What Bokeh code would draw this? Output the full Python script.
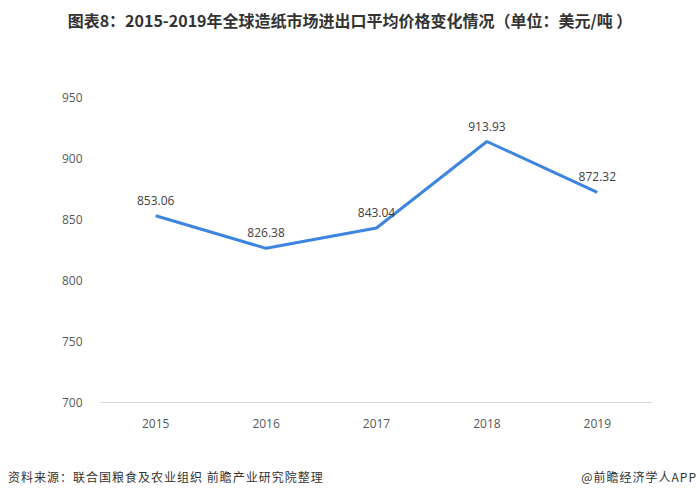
from bokeh.plotting import figure
from bokeh.models import ColumnDataSource, LabelSet, FixedTicker, Div
from bokeh.layouts import column
from bokeh.core.properties import value
from bokeh.embed import file_html
from bokeh.resources import INLINE

years = ["2015", "2016", "2017", "2018", "2019"]
prices = [853.06, 826.38, 843.04, 913.93, 872.32]
price_labels = ["853.06", "826.38", "843.04", "913.93", "872.32"]
y_ticks = [700, 750, 800, 850, 900, 950]

title_text = "图表8：2015-2019年全球造纸市场进出口平均价格变化情况（单位：美元/吨 ）"
source_text = "资料来源：联合国粮食及农业组织 前瞻产业研究院整理"
brand_text = "@前瞻经济学人APP"

W = 700
TITLE_H, FIG_H, FOOT_H = 38, 392, 70

title_div = Div(text=(f'<div style="box-sizing:border-box;width:{W}px;height:{TITLE_H}px;'
                      f'line-height:{TITLE_H + 2}px;text-align:center;'
                      'font-family:\'Noto Sans CJK SC\';font-size:16px;'
                      f'font-weight:bold;color:#333333;white-space:nowrap;">{title_text}</div>'),
                width=W, height=TITLE_H, margin=0)

p = figure(x_range=years, y_range=(700, 950), width=W, height=FIG_H,
           output_backend="svg", toolbar_location=None,
           min_border_left=100, min_border_right=48,
           min_border_top=59, min_border_bottom=28)
p.x_range.range_padding = 0
p.outline_line_color = None
p.xgrid.grid_line_color = None
p.ygrid.grid_line_color = None

src = ColumnDataSource(dict(x=years, y=prices, t=price_labels))
p.line("x", "y", source=src, line_color="#3d85e0", line_width=3)
p.add_layout(LabelSet(x="x", y="y", text="t", source=src, y_offset=11,
                      text_align="center", text_baseline="bottom",
                      text_font_size="12px", text_color="#404040",
                      text_font=value("Open Sans")))

p.yaxis.ticker = FixedTicker(ticks=y_ticks)
p.yaxis.axis_line_color = None
p.yaxis.major_tick_line_color = None
p.yaxis.minor_tick_line_color = None
p.yaxis.major_label_text_font_size = "12px"
p.yaxis.major_label_text_color = "#595959"
p.yaxis.major_label_text_font = "Open Sans"
p.yaxis.major_label_standoff = 12

p.xaxis.axis_line_color = "#d9d9d9"
p.xaxis.axis_line_width = 1
p.xaxis.major_tick_line_color = None
p.xaxis.minor_tick_line_color = None
p.xaxis.major_label_text_font_size = "12px"
p.xaxis.major_label_text_color = "#595959"
p.xaxis.major_label_text_font = "Open Sans"
p.xaxis.major_label_standoff = 10

footer_div = Div(text=(f'<div style="box-sizing:border-box;width:{W}px;height:{FOOT_H}px;'
                       'padding:39px 3px 0 8px;display:flex;justify-content:space-between;'
                       'font-family:\'Noto Sans CJK SC\';font-size:12px;letter-spacing:1px;'
                       f'color:#333333;line-height:16px;white-space:nowrap;">'
                       f'<span>{source_text}</span><span>{brand_text}</span></div>'),
                 width=W, height=FOOT_H, margin=0)

layout = column(title_div, p, footer_div, spacing=0)
open("out.html", "w").write(file_html(layout, INLINE))
